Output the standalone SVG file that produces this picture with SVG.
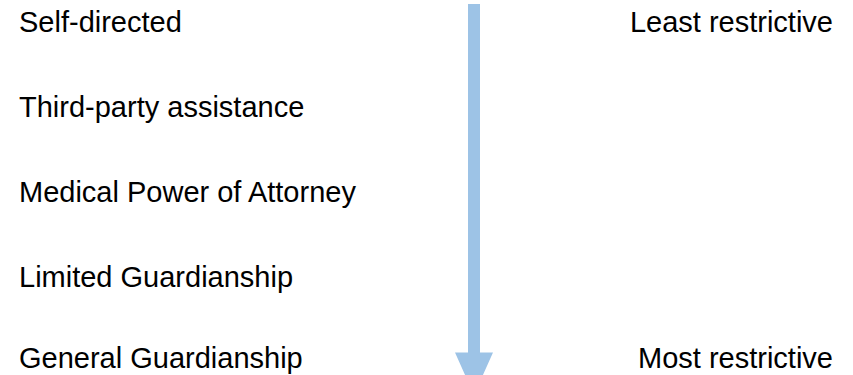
<svg xmlns="http://www.w3.org/2000/svg" width="853" height="375" viewBox="0 0 853 375">
  <style>
    .lbl { font-family: "Liberation Sans", Arial, sans-serif; font-size: 29px; fill: #000; }
    .end { text-anchor: end; }
    .arrow { fill: #9DC3E6; }
  </style>
  <rect width="853" height="375" fill="#fff"/>

  <!-- scale of options, least to most restrictive -->
  <g id="self-directed"><text class="lbl" x="19" y="32">Self-directed</text></g>
  <g id="third-party"><text class="lbl" x="19" y="117">Third-party assistance</text></g>
  <g id="medical-poa"><text class="lbl" x="19" y="202">Medical Power of Attorney</text></g>
  <g id="limited-guardianship"><text class="lbl" x="19" y="287">Limited Guardianship</text></g>
  <g id="general-guardianship"><text class="lbl" x="19" y="368">General Guardianship</text></g>

  <g id="least-restrictive"><text class="lbl end" x="833" y="32">Least restrictive</text></g>
  <g id="most-restrictive"><text class="lbl end" x="833" y="368">Most restrictive</text></g>

  <!-- downward arrow -->
  <g id="connectors">
    <path class="arrow" d="M468,4 H480 V352.5 H493 L474,395 L455,352.5 H468 Z"/>
  </g>
</svg>
